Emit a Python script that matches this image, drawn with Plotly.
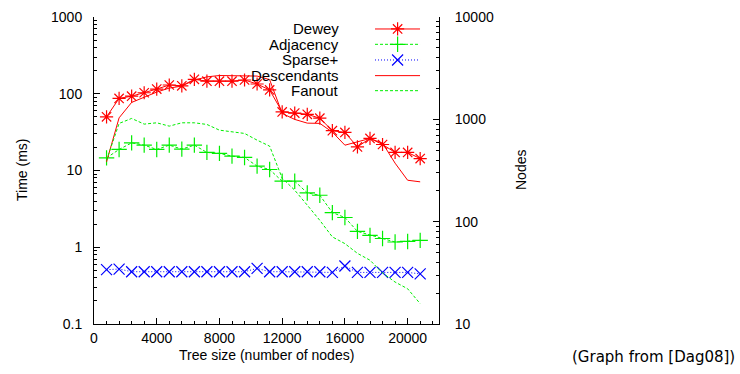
import plotly.graph_objects as go

# ---------------- data ----------------
tree_size = [800, 1600, 2400, 3200, 4000, 4800, 5600, 6400, 7200, 8000, 8800, 9600, 10400,
             11200, 12000, 12800, 13600, 14400, 15200, 16000, 16800, 17600, 18400, 19200,
             20000, 20800]

dewey = [50, 87, 93, 103, 115, 130, 127, 154, 146, 146, 146, 151, 134,
         112, 58, 56, 54, 48, 33, 31.3, 20.3, 26.2, 21.8, 17.2, 17.2, 14.3]

adjacency = [14.6, 18.8, 22.9, 21.4, 18.8, 21.4, 19.0, 21.4, 17.2, 16.7, 15.4, 14.8, 11.4,
             10.3, 7.25, 7.25, 5.1, 4.76, 2.83, 2.44, 1.61, 1.43, 1.30, 1.17, 1.19, 1.23]

sparse_plus = [0.51, 0.52, 0.48, 0.48, 0.48, 0.48, 0.48, 0.48, 0.48, 0.48, 0.48, 0.48, 0.53,
               0.48, 0.48, 0.48, 0.48, 0.48, 0.47, 0.57, 0.47, 0.47, 0.47, 0.47, 0.47, 0.45]

# right axis (Nodes)
descendants = [384, 1034, 1463, 1650, 1846, 2020, 2113, 2420, 2600, 2680, 2680, 2680, 2647,
               2443, 1142, 998, 918, 913, 750, 559, 603, 650, 585, 373, 254, 245]

fanout = [399, 912, 1020, 898, 925, 858, 925, 925, 891, 784, 755, 728, 626,
          547, 266, 203, 145, 103, 71, 61, 49, 42, 31.5, 25.7, 22.1, 15.8]

x_ticks = [0, 4000, 8000, 12000, 16000, 20000]
y_left_ticks = [0.1, 1, 10, 100, 1000]
y_left_labels = ["0.1", "1", "10", "100", "1000"]
y_right_ticks = [10, 100, 1000, 10000]
y_right_labels = ["10", "100", "1000", "10000"]

legend_names = ["Dewey", "Adjacency", "Sparse+", "Descendants", "Fanout"]

# ---------------- styling ----------------
RED = "#ff0000"
GREEN = "#00ee00"
BLUE = "#0000ff"
FONT = "Liberation Sans"
FS = 14

styles = {
    "Dewey": dict(color=RED, dash="solid", symbol="asterisk-open", mode="lines+markers"),
    "Adjacency": dict(color=GREEN, dash="3px,2px", symbol="cross-thin-open", mode="lines+markers"),
    "Sparse+": dict(color=BLUE, dash="1px,2px", symbol="x-thin-open", mode="lines+markers"),
    "Descendants": dict(color=RED, dash="solid", symbol=None, mode="lines"),
    "Fanout": dict(color=GREEN, dash="3px,2px", symbol=None, mode="lines"),
}

fig = go.Figure()

series = [("Dewey", dewey, "y"), ("Adjacency", adjacency, "y"), ("Sparse+", sparse_plus, "y"),
          ("Descendants", descendants, "y2"), ("Fanout", fanout, "y2")]

for name, vals, yax in series:
    st = styles[name]
    kw = dict(x=tree_size, y=vals, name=name, mode=st["mode"], yaxis=yax, xaxis="x",
              line=dict(color=st["color"], width=1, dash=st["dash"]), showlegend=False,
              hoverinfo="skip")
    if st["symbol"]:
        kw["marker"] = dict(symbol=st["symbol"], size=11, color=st["color"],
                            line=dict(color=st["color"], width=1.2))
    fig.add_trace(go.Scatter(**kw))

# ---------------- custom legend (text left of key, like gnuplot) ----------------
key_x0, key_x1, key_xm = 0.8145, 0.945, 0.88
key_rows = [0.961, 0.911, 0.860, 0.809, 0.760]
text_x = 0.716
for name, ky in zip(legend_names, key_rows):
    st = styles[name]
    fig.add_trace(go.Scatter(x=[key_x0, key_x1], y=[ky, ky], mode="lines", xaxis="x3", yaxis="y3",
                             line=dict(color=st["color"], width=1, dash=st["dash"]),
                             showlegend=False, hoverinfo="skip"))
    if st["symbol"]:
        fig.add_trace(go.Scatter(x=[key_xm], y=[ky], mode="markers", xaxis="x3", yaxis="y3",
                                 marker=dict(symbol=st["symbol"], size=11, color=st["color"],
                                             line=dict(color=st["color"], width=1.2)),
                                 showlegend=False, hoverinfo="skip"))
    fig.add_annotation(x=text_x, y=ky, xref="paper", yref="paper", text=name, showarrow=False,
                       xanchor="right", yanchor="middle",
                       font=dict(family=FONT, size=15, color="black"))

minor_x = [v for v in range(800, 22000, 800) if v % 4000 != 0]
minor_left = [k * 10 ** d for d in range(-1, 3) for k in range(2, 10)]
minor_right = [k * 10 ** d for d in range(1, 4) for k in range(2, 10)]

axis_common = dict(showgrid=False, zeroline=False, showline=True, linecolor="black", linewidth=1,
                   ticks="inside", tickcolor="black", tickwidth=1, automargin=False,
                   tickfont=dict(family=FONT, size=FS, color="black"))

fig.update_layout(
    width=740, height=374, autosize=False,
    margin=dict(l=94, r=301, t=17, b=50, pad=0),
    paper_bgcolor="white", plot_bgcolor="white",
    showlegend=False,
    xaxis=dict(range=[0, 22000], tickmode="array", tickvals=x_ticks,
               ticktext=[str(v) for v in x_ticks], ticklen=6, ticklabelstandoff=1,
               minor=dict(tickmode="array", tickvals=minor_x, ticks="inside", ticklen=3,
                          tickcolor="black", showgrid=False),
               **axis_common),
    yaxis=dict(type="log", range=[-1, 3], tickmode="array", tickvals=y_left_ticks,
               ticktext=y_left_labels, ticklen=6, ticklabelstandoff=8,
               minor=dict(tickmode="array", tickvals=minor_left, ticks="inside", ticklen=3,
                          tickcolor="black", showgrid=False),
               **axis_common),
    yaxis2=dict(type="log", range=[1, 4], overlaying="y", side="right", anchor="x",
                tickmode="array", tickvals=y_right_ticks, ticktext=y_right_labels, ticklen=6,
                ticklabelstandoff=12,
                minor=dict(tickmode="array", tickvals=minor_right, ticks="inside", ticklen=3,
                           tickcolor="black", showgrid=False),
                **axis_common),
    xaxis3=dict(domain=[0, 1], range=[0, 1], visible=False, anchor="y3", overlaying="x"),
    yaxis3=dict(domain=[0, 1], range=[0, 1], visible=False, anchor="x3", overlaying="y"),
)

title_font = dict(family=FONT, size=FS, color="black")
fig.add_annotation(x=-0.2087, y=0.5016, xref="paper", yref="paper", text="Time (ms)",
                   textangle=-90, showarrow=False, xanchor="center", yanchor="middle",
                   font=title_font)
fig.add_annotation(x=1.2377, y=0.5016, xref="paper", yref="paper", text="Nodes",
                   textangle=-90, showarrow=False, xanchor="center", yanchor="middle",
                   font=title_font)
fig.add_annotation(x=0.4986, y=-0.101, xref="paper", yref="paper", text="Tree size (number of nodes)",
                   showarrow=False, xanchor="center", yanchor="middle", font=title_font)
fig.add_annotation(x=1.623, y=-0.1075, xref="paper", yref="paper", text="(Graph from [Dag08])",
                   showarrow=False, xanchor="center", yanchor="middle",
                   font=dict(family="DejaVu Sans", size=15, color="black"))

fig.write_html("out.html", config={"displayModeBar": False},
               post_script="document.body.style.margin='0px';")
